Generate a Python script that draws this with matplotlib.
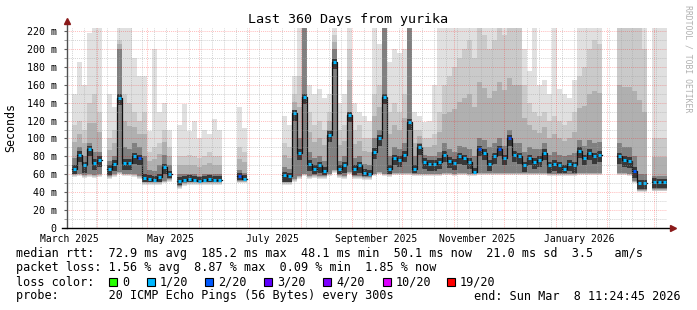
import numpy as np
import matplotlib
matplotlib.use("Agg")
import matplotlib.pyplot as plt
import matplotlib.dates as mdates
from matplotlib.patches import Rectangle
from datetime import datetime, timedelta

plt.rcParams["font.family"] = ["DejaVu Sans Mono"]

nan = np.nan
start = datetime(2025, 3, 13, 11, 24, 45)
end = datetime(2026, 3, 8, 11, 24, 45)
bin_days = 3

# median rtt per 3-day bin (ms), nan = no data
median = [nan, 66, 82, 70, 88, 73, 76, nan, 66, 72,
          145, 73, 73, 80, 78, 56, 55, 54, 57, 68,
          60, nan, 53, 54, 55, 54, 53, 54, 55, 54,
          54, nan, nan, nan, 58, 55, nan, nan, nan, nan,
          nan, nan, nan, 59, 58, 128, 84, 146, 72, 66,
          70, 64, 104, 185, 66, 70, 126, 66, 70, 62,
          61, 85, 100, 146, 66, 78, 76, 82, 118, 66,
          90, 74, 72, 72, 74, 82, 75, 73, 80, 78,
          74, 63, 88, 84, 72, 80, 88, 78, 100, 82,
          80, 70, 78, 74, 76, 84, 70, 72, 70, 66,
          72, 70, 86, 78, 84, 80, 82, nan, nan, nan,
          80, 76, 75, 64, 50, 50, nan, 52, 51, 51]

# lost pings out of 20 per bin
loss = [0, 1, 1, 1, 1, 1, 1, 0, 1, 1,
        1, 1, 1, 1, 2, 1, 1, 1, 1, 1,
        1, 0, 1, 1, 1, 1, 1, 1, 1, 1,
        1, 0, 0, 0, 2, 1, 0, 0, 0, 0,
        0, 0, 0, 1, 1, 1, 1, 1, 1, 1,
        1, 1, 1, 1, 1, 1, 1, 1, 1, 1,
        1, 1, 1, 1, 1, 1, 1, 1, 1, 1,
        1, 1, 1, 1, 1, 1, 1, 1, 1, 1,
        1, 1, 2, 1, 1, 1, 2, 1, 2, 1,
        1, 1, 1, 1, 1, 1, 1, 1, 1, 1,
        1, 1, 1, 1, 1, 1, 1, 0, 0, 0,
        1, 1, 1, 2, 1, 1, 0, 1, 1, 1]

# smoke: lowest ping, top of dark smoke, top of mid smoke, highest ping
smoke_lo = [nan, 57, 58, 56, 57, 56, 57, nan, 55, 57,
            60, 58, 58, 57, 55, 48, 48, 48, 48, 50,
            52, nan, 44, 47, 48, 48, 48, 48, 48, 48,
            48, nan, nan, nan, 50, 50, nan, nan, nan, nan,
            nan, nan, nan, 48, 48, 52, 55, 58, 55, 56,
            55, 55, 58, 62, 56, 55, 60, 55, 55, 54,
            54, 58, 60, 58, 57, 59, 59, 59, 59, 58,
            58, 58, 58, 58, 58, 59, 59, 58, 59, 59,
            58, 58, 59, 59, 59, 59, 59, 59, 59, 59,
            59, 59, 59, 59, 59, 59, 58, 58, 58, 58,
            58, 58, 59, 59, 59, 59, 59, nan, nan, nan,
            59, 59, 58, 50, 40, 40, nan, 41, 41, 41]

smoke_dark = [nan, 78, 90, 80, 95, 85, 85, nan, 75, 80,
              200, 90, 88, 95, 90, 80, 65, 64, 70, 82,
              70, nan, 60, 60, 60, 60, 58, 60, 60, 60,
              60, nan, nan, nan, 65, 62, nan, nan, nan, nan,
              nan, nan, nan, 68, 66, 132, 100, 225, 85, 78,
              80, 75, 110, 200, 75, 80, 130, 78, 80, 72,
              70, 100, 110, 225, 80, 90, 88, 95, 225, 80,
              95, 82, 80, 80, 85, 95, 88, 85, 92, 90,
              88, 80, 100, 98, 90, 95, 100, 92, 110, 95,
              95, 85, 90, 88, 88, 95, 82, 85, 82, 80,
              82, 84, 98, 92, 98, 95, 96, nan, nan, nan,
              95, 90, 90, 80, 60, 60, nan, 58, 58, 58]

smoke_mid = [nan, 115, 120, 110, 140, 150, 130, nan, 100, 110,
             210, 150, 140, 130, 120, 130, 85, 90, 95, 110,
             90, nan, 80, 80, 82, 80, 78, 80, 85, 80,
             80, nan, nan, nan, 90, 85, nan, nan, nan, nan,
             nan, nan, nan, 95, 90, 150, 170, 225, 130, 115,
             120, 110, 130, 215, 110, 115, 200, 110, 115, 100,
             100, 150, 160, 225, 130, 140, 130, 150, 225, 110,
             110, 100, 100, 105, 130, 160, 170, 180, 190, 200,
             210, 190, 225, 215, 200, 210, 225, 215, 225, 225,
             225, 160, 140, 130, 125, 130, 120, 125, 120, 115,
             120, 130, 170, 180, 200, 210, 205, nan, nan, nan,
             225, 225, 225, 225, 225, 200, nan, 100, 100, 100]

smoke_top = [nan, 150, 185, 160, 218, 225, 225, nan, 150, 135,
             225, 225, 225, 190, 170, 170, 108, 200, 130, 140,
             110, nan, 115, 138, 108, 120, 100, 110, 105, 122,
             110, nan, nan, nan, 135, 112, nan, nan, nan, nan,
             nan, nan, nan, 125, 115, 170, 225, 225, 160, 150,
             155, 145, 150, 225, 140, 150, 225, 140, 130, 125,
             120, 225, 205, 225, 185, 200, 195, 200, 225, 130,
             125, 118, 120, 160, 225, 225, 225, 225, 225, 225,
             225, 225, 225, 225, 225, 225, 225, 225, 225, 225,
             225, 200, 175, 225, 160, 165, 150, 225, 155, 150,
             145, 165, 225, 225, 225, 225, 225, nan, nan, nan,
             225, 225, 225, 225, 225, 225, nan, 225, 225, 225]

loss_labels = ["0", "1/20", "2/20", "3/20", "4/20", "10/20", "19/20"]
loss_colors = ["#26ff00", "#00b8ff", "#0059ff", "#5e00ff",
               "#7e00ff", "#dd00ff", "#ff0000"]

month_labels = ["March 2025", "May 2025", "July 2025",
                "September 2025", "November 2025", "January 2026"]
month_label_dates = [datetime(2025, 3, 15), datetime(2025, 5, 15),
                     datetime(2025, 7, 15), datetime(2025, 9, 15),
                     datetime(2025, 11, 15), datetime(2026, 1, 15)]

W, H = 697, 310
fig = plt.figure(figsize=(W / 100, H / 100), dpi=100)
ax = fig.add_axes([66.5 / W, (H - 228.3) / H, 600 / W, 200 / H])

edges = mdates.date2num([start + timedelta(days=bin_days * i)
                         for i in range(len(median) + 1)])
xs = np.repeat(edges, 2)[1:-1]


def stepped(vals):
    return np.ma.masked_invalid(np.repeat(np.asarray(vals, float), 2))


med = np.asarray(median, float)
lo = np.asarray(smoke_lo, float)
dark = np.asarray(smoke_dark, float)
mid = np.asarray(smoke_mid, float)

# smoke layers, lighter outside, darker towards the median
ax.fill_between(xs, stepped(lo), stepped(smoke_top), color="#e0e0e0", lw=0, zorder=1)
ax.fill_between(xs, stepped(lo + 1), stepped(mid), color="#cacaca", lw=0, zorder=1.1)
ax.fill_between(xs, stepped(lo + 2), stepped((mid + dark) / 2), color="#b0b0b0", lw=0, zorder=1.2)
ax.fill_between(xs, stepped(lo + 3), stepped(dark), color="#808080", lw=0, zorder=1.4)
core_lo = np.maximum(lo + 4, med - 8)
core_hi = np.minimum(dark, med + 4)
ax.fill_between(xs, stepped(core_lo), stepped(core_hi), color="#383838", lw=0, zorder=1.6)
ax.plot(xs, stepped(med), color="#111111", lw=0.9, zorder=2)


def loss_color(n):
    if n >= 19:
        return loss_colors[6]
    if n >= 10:
        return loss_colors[5]
    if n >= 4:
        return loss_colors[4]
    return loss_colors[n]


w = edges[1] - edges[0]
for i, m in enumerate(median):
    if np.isnan(m):
        continue
    ax.plot([edges[i] + 0.2 * w, edges[i] + 0.8 * w], [m, m],
            color=loss_color(loss[i]), lw=2.2, solid_capstyle="butt", zorder=3)

# grid on top, rrdtool style
dots = (0, (1, 1.3))
for v in range(10, 221, 10):
    if v % 20 == 0:
        ax.axhline(v, color="#ff0000", alpha=0.35, lw=0.6, ls=dots, zorder=5)
    else:
        ax.axhline(v, color="#a0a0a0", alpha=0.6, lw=0.6, ls=dots, zorder=5)

d = start.replace(hour=0, minute=0, second=0) + timedelta(days=1)
while d < end:
    if d.day == 1:
        ax.axvline(mdates.date2num(d), color="#ff0000", alpha=0.35, lw=0.6, ls=dots, zorder=5)
    elif d.weekday() == 0:
        ax.axvline(mdates.date2num(d), color="#a0a0a0", alpha=0.6, lw=0.6, ls=dots, zorder=5)
    d += timedelta(days=1)

ax.set_xlim(mdates.date2num(start), mdates.date2num(end))
ax.set_ylim(0, 222.7)

ax.set_yticks(range(0, 221, 20))
ax.set_yticklabels(["0"] + [f"{v} m" for v in range(20, 221, 20)])
ax.set_yticks(range(10, 221, 20), minor=True)
ax.set_xticks(mdates.date2num(month_label_dates))
ax.set_xticklabels(month_labels)
ax.tick_params(axis="x", which="major", length=0, pad=4, labelsize=7)
ax.tick_params(axis="y", which="major", length=2, pad=5, labelsize=7.2, color="#606060")
ax.tick_params(axis="y", which="minor", length=2, color="#909090")

for s in ax.spines.values():
    s.set_visible(False)
ax.plot([0, 0], [0, 1.03], transform=ax.transAxes, color="#505050", lw=1, clip_on=False, zorder=6)
ax.plot([-0.008, 1.008], [0, 0], transform=ax.transAxes, color="black", lw=1, clip_on=False, zorder=6)
ax.plot(0, 1.035, marker="^", ms=4.5, color="#8b1a1a", transform=ax.transAxes, clip_on=False, zorder=7)
ax.plot(1.01, 0, marker=">", ms=4.5, color="#8b1a1a", transform=ax.transAxes, clip_on=False, zorder=7)


def px(x, y):
    return x / W, (H - y) / H


fig.text(*px(348, 19), "Last 360 Days from yurika", ha="center", va="center", fontsize=9.6)
fig.text(*px(11, 127), "Seconds", rotation=90, ha="center", va="center", fontsize=8.4)
fig.text(*px(688, 59), "RRDTOOL / TOBI OETIKER", rotation=270, ha="center", va="center",
         fontsize=5.9, color="#b0b0b0")

leg = 8.5
fig.text(*px(16, 254), "median rtt:  72.9 ms avg  185.2 ms max  48.1 ms min  50.1 ms now"
         "  21.0 ms sd  3.5   am/s", ha="left", va="center", fontsize=leg)
fig.text(*px(16, 268), "packet loss: 1.56 % avg  8.87 % max  0.09 % min  1.85 % now",
         ha="left", va="center", fontsize=leg)
fig.text(*px(16, 282), "loss color:", ha="left", va="center", fontsize=leg)
swatch_x = [109, 147, 205, 264, 323, 383, 447]
for sx, lab, col in zip(swatch_x, loss_labels, loss_colors):
    fx, fy = px(sx, 286)
    fig.patches.append(Rectangle((fx, fy), 8 / W, 8 / H, transform=fig.transFigure,
                                 facecolor=col, edgecolor="black", lw=0.8))
    fig.text(*px(sx + 13, 282), lab, ha="left", va="center", fontsize=leg)
fig.text(*px(16, 296), "probe:       20 ICMP Echo Pings (56 Bytes) every 300s",
         ha="left", va="center", fontsize=leg)
fig.text(*px(681, 296), "end: Sun Mar  8 11:24:45 2026", ha="right", va="center", fontsize=leg)

fig.savefig("out.png", dpi=100)
